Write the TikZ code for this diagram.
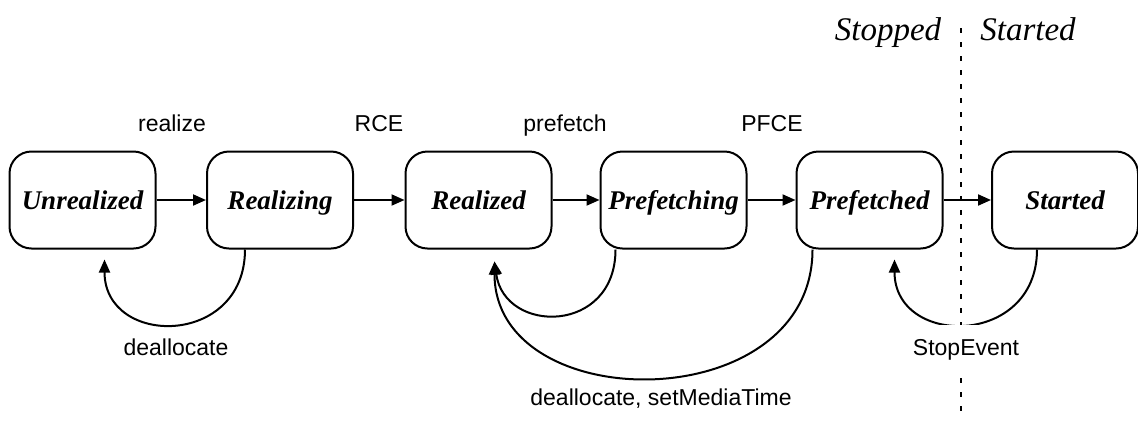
\documentclass[tikz,border=0pt]{standalone}
\usepackage{fontspec}
\setmainfont{Liberation Serif}
\newfontfamily\lblfont{Liberation Sans}
\usetikzlibrary{arrows.meta,calc}

\tikzset{
  state/.style={draw, line width=1pt, rounded corners=11pt,
    minimum width=73pt, minimum height=48.5pt, inner sep=0pt,
    text height=9pt, text depth=0pt,
    font=\fontsize{13.5}{16}\selectfont\bfseries\itshape},
  lbl/.style={anchor=base, inner sep=0pt, font=\lblfont\fontsize{11.5}{14}\selectfont},
  ttl/.style={anchor=base, inner sep=0pt, font=\fontsize{16.5}{20}\selectfont\itshape},
  trans/.style={line width=1pt, -{Triangle[length=6.5pt,width=5.5pt]}},
  divider/.style={line width=0.7pt, dash pattern=on 2.5pt off 4.5pt}
}

\begin{document}
\begin{tikzpicture}[x=0.5pt, y=-0.5pt]
  \useasboundingbox (0,0) rectangle (1138,424);

  % stopped / started divider
  \coordinate (dtop) at (961,28);
  \coordinate (dbot) at (961,416);
  \draw[divider] (dtop) -- (dbot);
  \node[ttl] (tstopped) at (888,40)  {Stopped};
  \node[ttl] (tstarted) at (1028,40) {Started};

  % states
  \node[state] (unr) at (82.5,200)  {Unrealized};
  \node[state] (rzg) at (280,200)   {Realizing};
  \node[state] (rzd) at (478.5,200) {Realized};
  \node[state] (pfg) at (673.5,200) {Prefetching};
  \node[state] (pfd) at (869.5,200) {Prefetched};
  \node[state] (sta) at (1065,200)  {Started};

  % forward transitions
  \draw[trans] (unr) -- (rzg);
  \draw[trans] (rzg) -- (rzd);
  \draw[trans] (rzd) -- (pfg);
  \draw[trans] (pfg) -- (pfd);
  \draw[trans] (pfd) -- (sta);

  \node[lbl] (lrealize)  at (172,131) {realize};
  \node[lbl] (lrce)      at (379,131) {RCE};
  \node[lbl] (lprefetch) at (565,131) {prefetch};
  \node[lbl] (lpfce)     at (772,131) {PFCE};

  % backward transitions
  \coordinate (b1s) at ($(rzg.south)+(-35,0)$);
  \coordinate (b1e) at ($(unr.south)+(22,10)$);
  \draw[trans] (b1s) .. controls ($(b1s)+(0,98)$) and ($(b1e)+(0,88)$) .. (b1e);

  \coordinate (b2s) at ($(pfg.south)+(-58,0)$);
  \coordinate (b2e) at ($(rzd.south)+(16,12)$);
  \draw[trans] (b2s) .. controls ($(b2s)+(0,85)$) and ($(b2e)+(10,73)$) .. (b2e);

  \coordinate (b3s) at ($(pfd.south)+(-57,0)$);
  \draw[trans] (b3s) .. controls ($(b3s)+(0,169)$) and ($(b2e)+(0,157)$) .. (b2e);

  \coordinate (b4s) at ($(sta.south)+(-28,0)$);
  \coordinate (b4e) at ($(pfd.south)+(25,10)$);
  \draw[trans] (b4s) .. controls ($(b4s)+(0,98)$) and ($(b4e)+(0,88)$) .. (b4e);

  \node[lbl] (ldealloc)  at (176,355) {deallocate};
  \node[lbl] (ldealset)  at (661,405) {deallocate, setMediaTime};
  \node[lbl, fill=white, inner ysep=7pt, inner xsep=1pt] (lstop) at (966,355) {StopEvent};
\end{tikzpicture}
\end{document}
